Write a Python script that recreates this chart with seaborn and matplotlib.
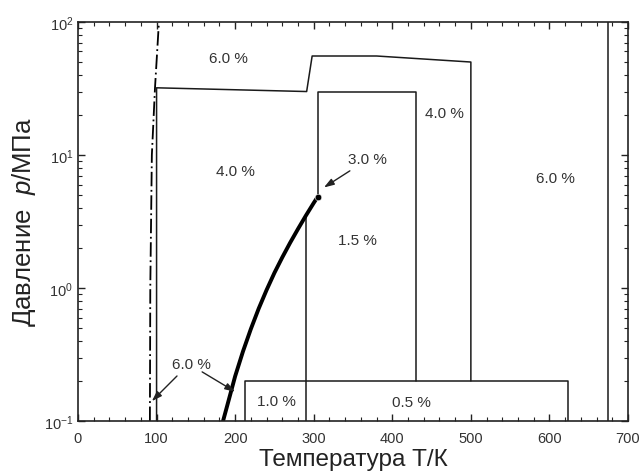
import numpy as np
import matplotlib
matplotlib.use("Agg")
import matplotlib.pyplot as plt
import seaborn as sns

# vapour pressure curve (thick line), ends at critical point
vap_T = [184.6, 190, 200, 210, 220, 230, 240, 250, 260, 270, 280, 290, 300, 305.3]
vap_p = [0.1, 0.131, 0.217, 0.334, 0.492, 0.701, 0.966, 1.30, 1.70, 2.19, 2.78, 3.50, 4.36, 4.87]
crit_T = [305.3]
crit_p = [4.87]

# melting line (dash-dot)
melt_T = [91.5, 92.0, 94.0, 98.0, 103.0]
melt_p = [0.1, 1.0, 10.0, 32.0, 100.0]

# region borders
outer_T = [100, 100, 291, 298, 380, 500, 500]
outer_p = [0.1, 32, 30, 55.5, 55.5, 50, 0.2]
inner_T = [305.3, 305.3, 430, 430]
inner_p = [4.87, 30, 30, 0.2]
mid_T = [290, 290]
mid_p = [3.50, 0.1]
low_T = [212, 212, 623, 623]
low_p = [0.1, 0.2, 0.2, 0.1]
right_T = [675, 675]
right_p = [0.1, 100]

# region labels
lab_text = ["6.0 %", "4.0 %", "4.0 %", "6.0 %", "1.5 %", "1.0 %", "0.5 %"]
lab_T = [191, 200, 466, 608, 356, 252, 424]
lab_p = [54, 7.6, 20.7, 6.7, 2.3, 0.141, 0.14]

# labels with arrows: text position, then arrow tails and heads
arr_text = ["3.0 %", "6.0 %"]
arr_T = [368, 145]
arr_p = [9.3, 0.27]
tail_T = [346, 126, 158]
tail_p = [7.6, 0.218, 0.234]
head_T = [313, 94, 200]
head_p = [5.7, 0.141, 0.166]

sns.set_style("ticks")
plt.rcParams['font.family'] = ['Liberation Sans', 'DejaVu Sans']
plt.rcParams['mathtext.fontset'] = 'custom'
plt.rcParams['mathtext.rm'] = 'Liberation Sans'
plt.rcParams['mathtext.it'] = 'Liberation Sans:italic'

fig = plt.figure(figsize=(6.43, 4.77), dpi=100)
ax = fig.add_axes([0.1213, 0.1153, 0.8554, 0.8365])
ax.set_yscale("log")

lw = 1.1
for T, p in [(outer_T, outer_p), (inner_T, inner_p), (mid_T, mid_p),
             (low_T, low_p), (right_T, right_p)]:
    sns.lineplot(x=T, y=p, ax=ax, sort=False, estimator=None, color="#1a1a1a", lw=lw)

sns.lineplot(x=melt_T, y=melt_p, ax=ax, sort=False, estimator=None, color="black",
             lw=1.3, linestyle=(0, (8, 2, 1, 2)))
sns.lineplot(x=vap_T, y=vap_p, ax=ax, sort=False, estimator=None, color="black", lw=2.8)
sns.scatterplot(x=crit_T, y=crit_p, ax=ax, color="black", s=22, zorder=5)

for t, T, p in zip(lab_text, lab_T, lab_p):
    ax.text(T, p, t, ha="center", va="center", fontsize=11, color="#333333")
for t, T, p in zip(arr_text, arr_T, arr_p):
    ax.text(T, p, t, ha="center", va="center", fontsize=11, color="#333333")
for T0, p0, T1, p1 in zip(tail_T, tail_p, head_T, head_p):
    ax.annotate("", xy=(T1, p1), xytext=(T0, p0),
                arrowprops=dict(arrowstyle="-|>,head_length=0.6,head_width=0.2",
                                color="#222222", lw=1.0, shrinkA=0, shrinkB=0))

ax.set_xlim(0, 700)
ax.set_ylim(0.1, 100)
ax.set_xticks(range(0, 701, 100))
ax.set_xticks(range(0, 701, 20), minor=True)
ax.set_yticks([0.1, 1, 10, 100])
ax.set_yticklabels([r"$10^{-1}$", r"$10^{0}$", r"$10^{1}$", r"$10^{2}$"])
ax.tick_params(which="both", direction="in", top=True, right=True,
               labelsize=10.5, labelcolor="#333333", color="#222222")
ax.tick_params(axis="x", which="major", pad=7)
ax.tick_params(which="major", length=5, width=1.0)
ax.tick_params(which="minor", length=3, width=0.8)
for s in ax.spines.values():
    s.set_linewidth(1.2)
    s.set_color("#222222")

ax.set_xlabel("Температура Т/К", fontsize=17.5, color="#222222", labelpad=2)
ax.set_ylabel(r"Давление  $p$/МПа", fontsize=18.5, color="#222222", labelpad=4)

fig.savefig("out.png", dpi=100)
